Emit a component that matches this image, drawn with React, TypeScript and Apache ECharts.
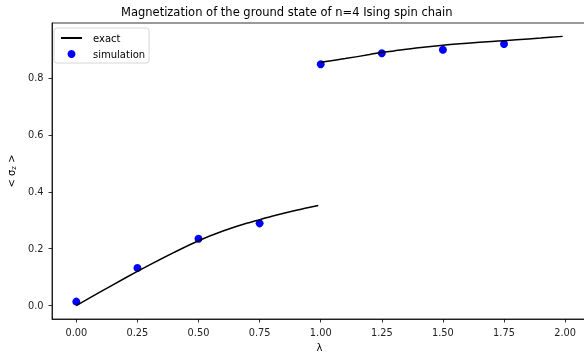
import React, { useEffect, useRef } from "react";
import * as echarts from "echarts";

const exactLowX = [0, 0.1, 0.2, 0.3, 0.4, 0.5, 0.6, 0.7, 0.75, 0.8, 0.9, 0.99];
const exactLowY = [0, 0.049, 0.097, 0.143, 0.187, 0.228, 0.262, 0.29, 0.302, 0.314, 0.335, 0.352];
const exactHighX = [1.0, 1.1, 1.2, 1.25, 1.3, 1.4, 1.5, 1.6, 1.7, 1.75, 1.8, 1.9, 1.99];
const exactHighY = [0.855, 0.868, 0.882, 0.89, 0.895, 0.906, 0.915, 0.922, 0.928, 0.931, 0.934, 0.94, 0.946];
const simX = [0, 0.25, 0.5, 0.75, 1.0, 1.25, 1.5, 1.75];
const simY = [0.014, 0.132, 0.235, 0.289, 0.848, 0.887, 0.899, 0.919];
const xTicks = [0, 0.25, 0.5, 0.75, 1.0, 1.25, 1.5, 1.75, 2.0];
const yTicks = [0, 0.2, 0.4, 0.6, 0.8];

const FONT = "DejaVu Sans";

export default function App() {
  const ref = useRef<HTMLDivElement>(null);
  useEffect(() => {
    if (!ref.current) return;
    const chart = echarts.init(ref.current, null, { renderer: "svg" });
    const zip = (xs: number[], ys: number[]) => xs.map((x, i) => [x, ys[i]]);
    chart.setOption({
      animation: false,
      title: {
        text: "Magnetization of the ground state of n=4 Ising spin chain",
        left: 116,
        top: 1,
        textStyle: { fontFamily: FONT, fontSize: 11.5, fontWeight: "normal", color: "#000" },
      },
      legend: {
        left: 54,
        top: 28,
        orient: "vertical",
        padding: [4, 4, 3, 6],
        itemGap: 4,
        itemWidth: 21,
        itemHeight: 8,
        borderColor: "#ccc",
        borderWidth: 0.8,
        borderRadius: 3,
        textStyle: { fontFamily: FONT, fontSize: 10, lineHeight: 12, color: "#000", padding: [0, 0, 0, 6] },
        data: [
          { name: "exact", itemStyle: { color: "rgba(0,0,0,0)", borderWidth: 0 } },
          { name: "simulation", icon: "circle" },
        ],
      },
      grid: {
        left: 52,
        top: 23,
        width: 535,
        height: 296,
        show: true,
        borderColor: "#000",
        borderWidth: 0.8,
        containLabel: false,
        outerBoundsMode: "none",
      },
      xAxis: {
        type: "value",
        min: -0.0995,
        max: 2.0895,
        name: "λ",
        nameLocation: "middle",
        nameGap: 23,
        nameTextStyle: { fontFamily: FONT, fontSize: 10, color: "#000" },
        axisLine: { onZero: false, lineStyle: { color: "#000", width: 0.8 } },
        axisTick: { customValues: xTicks, length: 3.5, lineStyle: { color: "#000", width: 0.8 } },
        axisLabel: {
          customValues: xTicks,
          formatter: (v: number) => v.toFixed(2),
          fontFamily: FONT,
          fontSize: 9.8,
          color: "#222",
          margin: 8,
        },
        splitLine: { show: false },
      },
      yAxis: {
        type: "value",
        min: -0.047,
        max: 0.993,
        name: "< σ{sub|z} >",
        nameLocation: "middle",
        nameRotate: 90,
        nameGap: 34,
        nameTextStyle: {
          fontFamily: FONT,
          fontSize: 10,
          color: "#000",
          rich: { sub: { fontFamily: FONT, fontSize: 7, color: "#000", padding: [4, 0, 0, 0] } },
        },
        axisLine: { show: true, onZero: false, lineStyle: { color: "#000", width: 0.8 } },
        axisTick: { show: true, customValues: yTicks, length: 3.5, lineStyle: { color: "#000", width: 0.8 } },
        axisLabel: {
          customValues: yTicks,
          formatter: (v: number) => v.toFixed(1),
          fontFamily: FONT,
          fontSize: 9.8,
          color: "#222",
          margin: 8.5,
        },
        splitLine: { show: false },
      },
      series: [
        {
          name: "exact",
          type: "line",
          data: zip(exactLowX, exactLowY),
          symbol: "none",
          smooth: 0.3,
          lineStyle: { color: "#000", width: 1.5 },
          itemStyle: { color: "#000" },
        },
        {
          name: "exact",
          type: "line",
          data: zip(exactHighX, exactHighY),
          symbol: "none",
          smooth: 0.3,
          lineStyle: { color: "#000", width: 1.5 },
          itemStyle: { color: "#000" },
        },
        {
          name: "simulation",
          type: "scatter",
          data: zip(simX, simY),
          symbol: "circle",
          symbolSize: 8,
          itemStyle: { color: "#0000ff", opacity: 1 },
        },
      ],
    });
    return () => chart.dispose();
  }, []);
  return <div ref={ref} style={{ position: "fixed", left: 0, top: 0, width: 584, height: 352 }} />;
}
